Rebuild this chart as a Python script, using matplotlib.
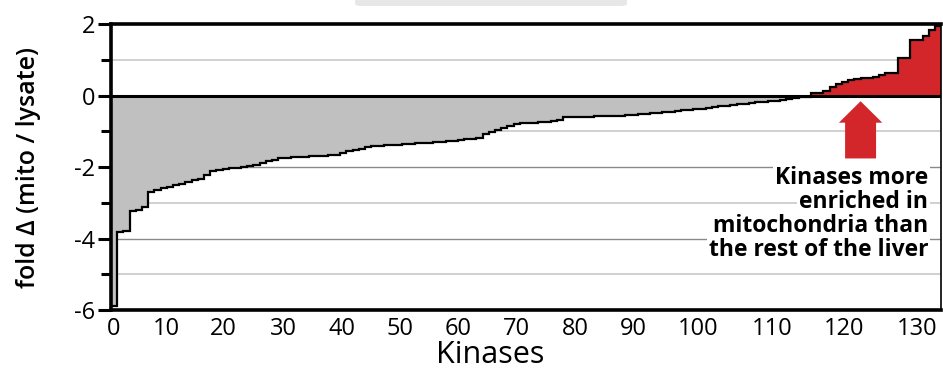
import numpy as np
import matplotlib
matplotlib.use('Agg')
import matplotlib.pyplot as plt
from matplotlib.patches import FancyArrow, FancyBboxPatch

# fold change per kinase, sorted (mito / lysate)
fold_change = [
    -5.90, -3.82, -3.78, -3.22, -3.20, -3.12, -2.69, -2.64, -2.60, -2.55,
    -2.50, -2.48, -2.42, -2.36, -2.33, -2.22, -2.12, -2.09, -2.05, -2.03,
    -2.02, -2.01, -1.96, -1.93, -1.90, -1.84, -1.80, -1.76, -1.74, -1.73,
    -1.72, -1.71, -1.70, -1.69, -1.68, -1.67, -1.66, -1.62, -1.55, -1.53,
    -1.50, -1.45, -1.41, -1.40, -1.39, -1.38, -1.37, -1.36, -1.35, -1.34,
    -1.33, -1.32, -1.30, -1.29, -1.27, -1.26, -1.25, -1.23, -1.21, -1.18,
    -1.08, -1.01, -0.97, -0.90, -0.84, -0.80, -0.78, -0.77, -0.76, -0.75,
    -0.73, -0.71, -0.68, -0.61, -0.60, -0.60, -0.59, -0.59, -0.58, -0.57,
    -0.57, -0.56, -0.56, -0.55, -0.54, -0.53, -0.52, -0.50, -0.48, -0.46,
    -0.45, -0.43, -0.41, -0.40, -0.39, -0.37, -0.34, -0.32, -0.30, -0.28,
    -0.27, -0.25, -0.23, -0.21, -0.19, -0.17, -0.15, -0.14, -0.12, -0.10,
    -0.08, -0.05, -0.03, 0.07, 0.08, 0.14, 0.23, 0.31, 0.37, 0.44,
    0.45, 0.48, 0.48, 0.51, 0.56, 0.62, 0.63, 1.04, 1.05, 1.54,
    1.55, 1.66, 1.82, 1.94,
]
x_labels = ['0', '10', '20', '30', '40', '50', '60', '70', '80', '90',
            '100', '110', '120', '130']
y_major = [-6, -4, -2, 0, 2]
y_minor = [-5, -3, -1, 1]
note_lines = ['Kinases more', 'enriched in', 'mitochondria than',
              'the rest of the liver']

# the source figure spaces its x labels by eye, not by value
x_label_pos = [-0.13, 8.49, 17.58, 27.27, 36.75, 46.16, 55.52, 65.0, 74.41,
               83.78, 94.32, 106.3, 117.9, 129.6]

plt.rcParams['font.family'] = ['Open Sans', 'DejaVu Sans']

vals = np.array(fold_change)
n = len(vals)
edges = np.arange(n + 1) - 0.5

fig = plt.figure(figsize=(9.43, 3.74), dpi=100)
ax = fig.add_axes([0.1177, 0.171, 0.8803, 0.7648])

for y in y_minor:
    ax.axhline(y, color='#c8c8c8', lw=1.2, zorder=1)
for y in [-2, -4]:
    ax.axhline(y, color='#8a8a8a', lw=1.0, zorder=1)

ax.stairs(np.minimum(vals, 0), edges, baseline=0, fill=True, color='#c0c0c0', zorder=2)
ax.stairs(np.maximum(vals, 0), edges, baseline=0, fill=True, color='#d2262b', zorder=2)
ax.stairs(vals, edges, baseline=None, color='black', lw=1.6, zorder=3)
ax.axhline(0, color='black', lw=2.2, zorder=4)

ax.set_xlim(edges[0], edges[-1])
ax.set_ylim(-6, 2)
ax.set_yticks(y_major)
ax.set_yticklabels([str(v) for v in y_major])
ax.set_yticks(y_minor, minor=True)
ax.set_xticks(x_label_pos)
ax.set_xticklabels(x_labels)
ax.tick_params(axis='y', which='major', length=9.5, width=2.2, labelsize=17, pad=2)
ax.tick_params(axis='y', which='minor', length=7, width=2.2)
ax.tick_params(axis='x', length=0, labelsize=17, pad=5)

for side in ['top', 'bottom', 'left']:
    ax.spines[side].set_linewidth(2.6)
ax.spines['right'].set_linewidth(1.2)

ax.set_ylabel('fold Δ (mito / lysate)', fontsize=18, fontweight='semibold')
ax.yaxis.set_label_coords(-0.084, 0.5)
ax.set_xlabel('Kinases', fontsize=22)
ax.xaxis.set_label_coords(0.457, -0.105)

arrow = FancyArrow(120.5, -1.76, 0, 1.60, width=5.0, head_width=7.0, head_length=0.6,
                   length_includes_head=True, color='#d2262b', lw=0, zorder=5)
ax.add_patch(arrow)

for i, line in enumerate(note_lines):
    ax.text(131.4, -1.97 - i * 0.67, line, ha='right', va='top', fontsize=16.5,
            fontweight='bold', zorder=6,
            bbox=dict(facecolor='white', edgecolor='none', pad=1.5))

fig.patches.append(FancyBboxPatch((0.3765, 0.984), 0.2884, 0.05,
                                  boxstyle='round,pad=0,rounding_size=0.006',
                                  transform=fig.transFigure, facecolor='#e6e7e6',
                                  edgecolor='none'))

plt.savefig('out.png', dpi=100)
plt.close()
